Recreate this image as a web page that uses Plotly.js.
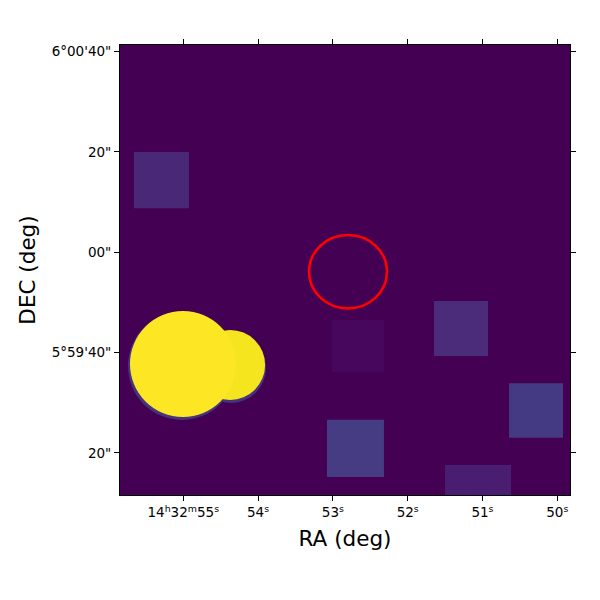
<!DOCTYPE html>
<html>
<head>
<meta charset="utf-8">
<script src="https://cdn.plot.ly/plotly-3.0.1.min.js"></script>
<style>
  body { margin: 0; background: #fff; }
  #myDiv { width: 600px; height: 600px; }
</style>
</head>
<body>
<div id="myDiv"></div>
<script>
// faint square sources: RA seconds (14h32m..s) and Dec offset from 6°00'00" in arcsec
let sqRa0 = [55.659, 53.079, 51.648, 50.645, 51.501, 53.012]
let sqRa1 = [54.924, 52.317, 50.926, 49.923, 50.618, 52.317]
let sqDec0 = [20.0, -33.4, -9.7, -26.1, -42.4, -13.5]
let sqDec1 = [8.8, -44.8, -20.7, -37.0, -50.0, -23.9]
let sqColor = ['#4a2878', '#453c83', '#4a2c7b', '#443a83', '#491d6f', '#46075c']

// bright sources (circles): centre and radius, drawn in this order
let srcRa = [55.017, 54.362, 54.374, 55.004]
let srcDec = [-22.67, -23.07, -22.47, -22.27]
let srcRRa = [0.722, 0.468, 0.468, 0.7086]
let srcRDec = [10.77, 6.98, 6.98, 10.57]
let srcColor = ['#46337e', '#46337e', '#f5e51f', '#fde725']

// red region ellipse
let regRa = 52.798
let regDec = -3.87
let regRRa = 0.521
let regRDec = 7.32

// tick labels
let raTicks = [55, 54, 53, 52, 51, 50]
let raText = ['14<sup>h</sup>32<sup>m</sup>55<sup>s</sup>', '54<sup>s</sup>', '53<sup>s</sup>', '52<sup>s</sup>', '51<sup>s</sup>', '50<sup>s</sup>']
let decTicks = [40, 20, 0, -20, -40]
let decText = ['6°00\'40"', '20"', '00"', '5°59\'40"', '20"']

// squares as filled traces
let traces = sqRa0.map((cur, i) => ({
  x: [sqRa0[i], sqRa1[i], sqRa1[i], sqRa0[i], sqRa0[i]],
  y: [sqDec0[i], sqDec0[i], sqDec1[i], sqDec1[i], sqDec0[i]],
  mode: 'lines',
  type: 'scatter',
  fill: 'toself',
  fillcolor: sqColor[i],
  line: {width: 0},
  hoverinfo: 'skip',
  showlegend: false
}))

// circles as shapes in data coordinates
let shapes = srcRa.map((cur, i) => ({
  type: 'circle', xref: 'x', yref: 'y',
  x0: srcRa[i] - srcRRa[i], x1: srcRa[i] + srcRRa[i],
  y0: srcDec[i] - srcRDec[i], y1: srcDec[i] + srcRDec[i],
  fillcolor: srcColor[i], line: {width: 0}
}))
shapes.push({
  type: 'circle', xref: 'x', yref: 'y',
  x0: regRa - regRRa, x1: regRa + regRRa,
  y0: regDec - regRDec, y1: regDec + regRDec,
  line: {color: '#ff0000', width: 2.6}
})

let font = {family: 'DejaVu Sans', size: 13.5, color: '#000'}

let layout = {
  width: 600, height: 600,
  margin: {l: 120, r: 30, t: 45, b: 105},
  paper_bgcolor: '#fff',
  plot_bgcolor: '#440154',
  font: font,
  shapes: shapes,
  xaxis: {
    range: [55.846, 49.830],
    tickvals: raTicks, ticktext: raText,
    ticks: 'outside', ticklen: 5, tickcolor: '#000',
    showline: true, linecolor: '#000', linewidth: 1, mirror: 'ticks',
    showgrid: false, zeroline: false,
    title: {text: 'RA (deg)', font: {family: 'DejaVu Sans', size: 21.5}, standoff: 11}
  },
  yaxis: {
    range: [-48.4, 41.33],
    tickvals: decTicks, ticktext: decText,
    ticks: 'outside', ticklen: 5, tickcolor: '#000',
    showline: true, linecolor: '#000', linewidth: 1, mirror: 'ticks',
    showgrid: false, zeroline: false,
    title: {text: 'DEC (deg)', font: {family: 'DejaVu Sans', size: 21.5}, standoff: 10}
  }
}

Plotly.newPlot('myDiv', traces, layout, {staticPlot: true})
</script>
</body>
</html>
